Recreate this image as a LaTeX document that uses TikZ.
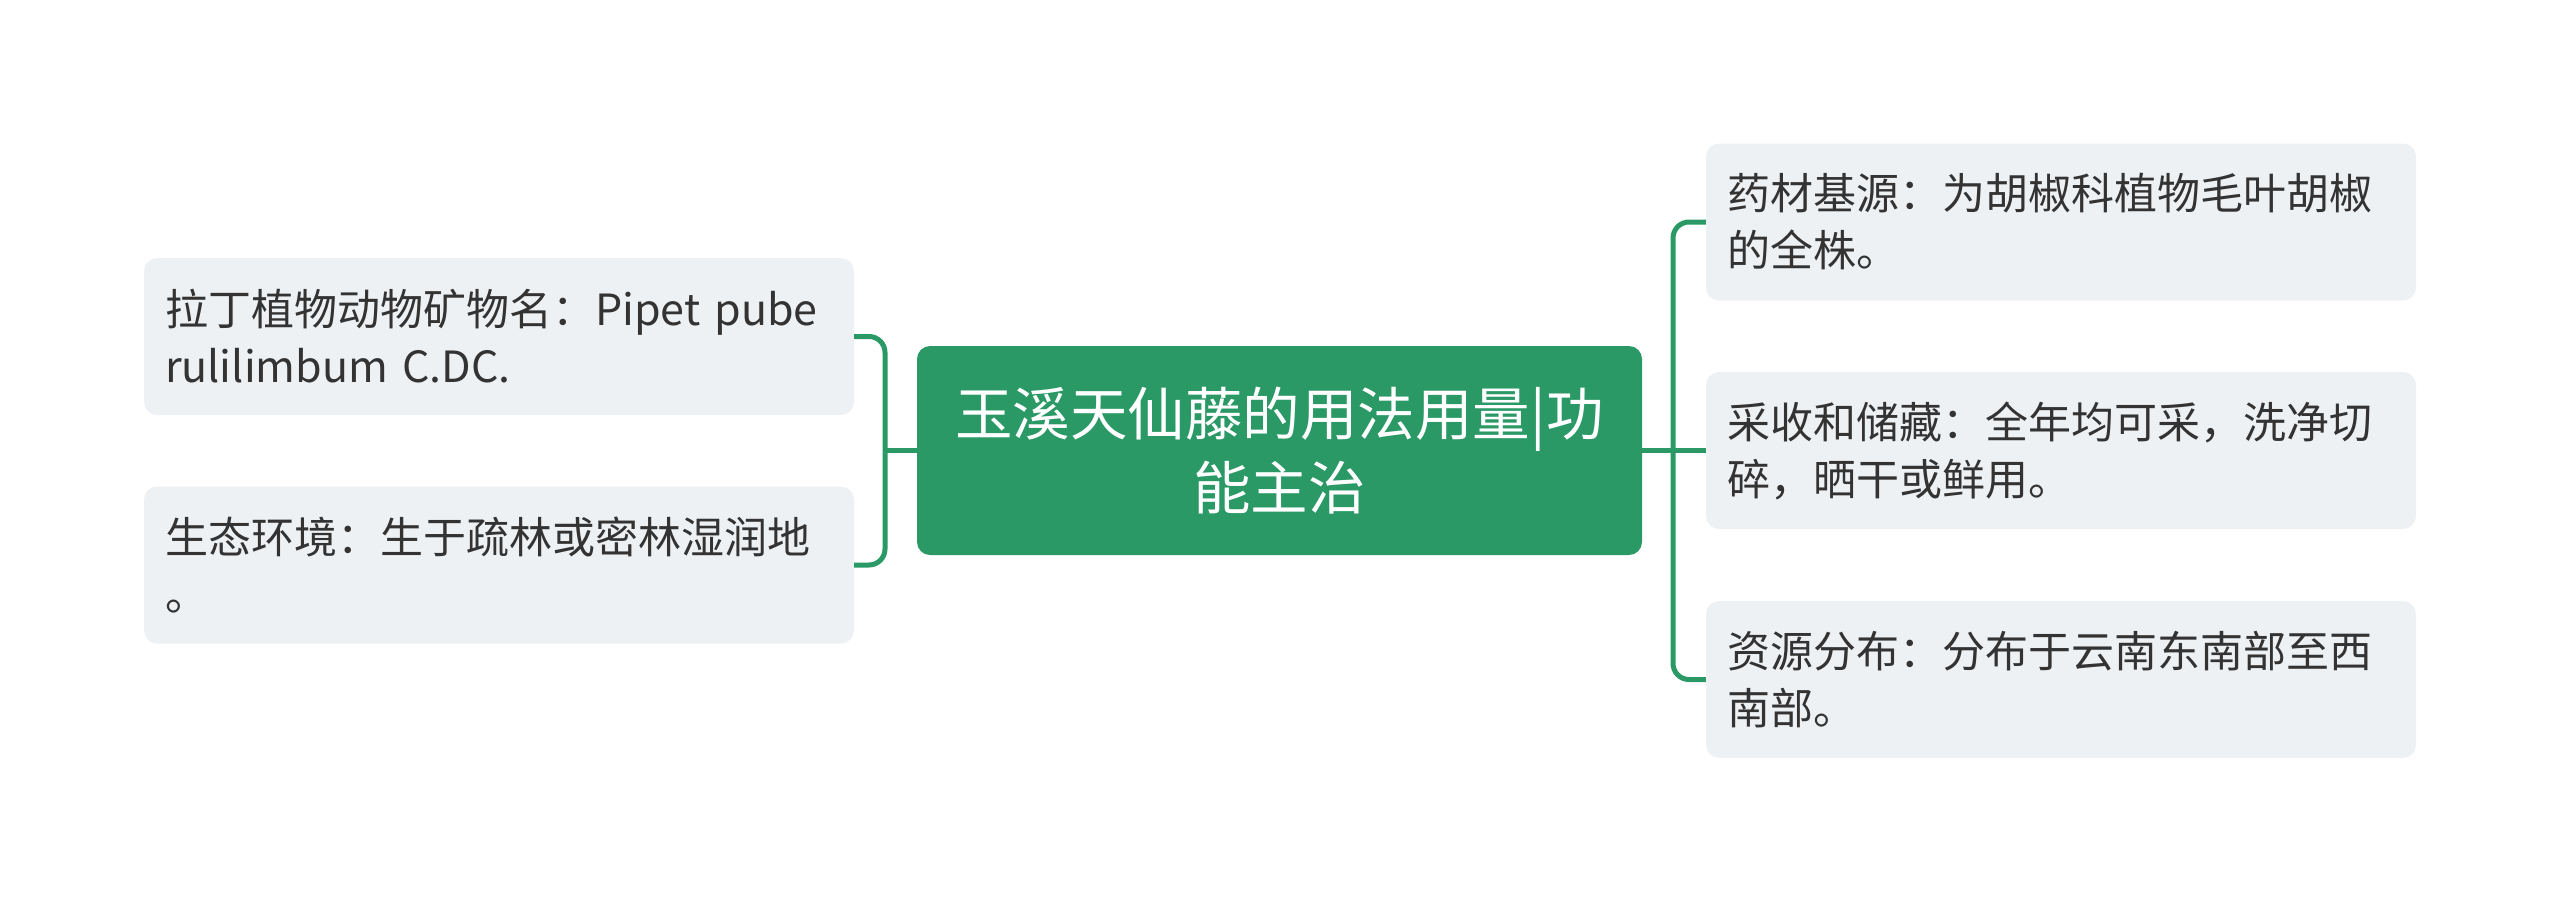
\documentclass[tikz,border=0pt]{standalone}
\usepackage{fontspec}
\newfontfamily\cjk{Noto Sans CJK SC}
\definecolor{mgreen}{RGB}{42,153,102}
\definecolor{boxgray}{RGB}{238,241,244}
\definecolor{txt}{RGB}{51,51,51}
\tikzset{
  leaf/.style={rounded corners=13pt, fill=boxgray, minimum width=710pt, minimum height=157pt,
    text width=668pt, align=left, inner sep=21pt, text=txt,
    font=\cjk\fontsize{43}{57}\selectfont},
  root/.style={rounded corners=13pt, fill=mgreen, minimum width=725pt, minimum height=209pt,
    text width=700pt, align=center, inner sep=10pt, text=white,
    font=\cjk\fontsize{57.5}{74}\selectfont},
  link/.style={draw=mgreen, line width=5pt, rounded corners=16pt}
}
\begin{document}
\begin{tikzpicture}[x=1pt,y=-1pt]
\useasboundingbox (0,0) rectangle (2560,903);
\node[root] (c) at (1279.5,450.5) {玉溪天仙藤的用法用量|功\\能主治};
\node[leaf] (l1) at (499,336.5) {拉丁植物动物矿物名：Pipet pube\\rulilimbum C.DC.};
\node[leaf] (l2) at (499,565) {生态环境：生于疏林或密林湿润地\\。};
\node[leaf] (r1) at (2061,222) {药材基源：为胡椒科植物毛叶胡椒\\的全株。};
\node[leaf] (r2) at (2061,450.5) {采收和储藏：全年均可采，洗净切\\碎，晒干或鲜用。};
\node[leaf] (r3) at (2061,679.5) {资源分布：分布于云南东南部至西\\南部。};
\coordinate (lj) at (885,450.5);
\coordinate (rj) at (1673,450.5);
\draw[link] (c.west) -- (lj);
\draw[link] (l1.east) -| (lj) |- (l2.east);
\draw[link] (c.east) -- (r2.west);
\draw[link] (r1.west) -| (rj) |- (r3.west);
\end{tikzpicture}
\end{document}
